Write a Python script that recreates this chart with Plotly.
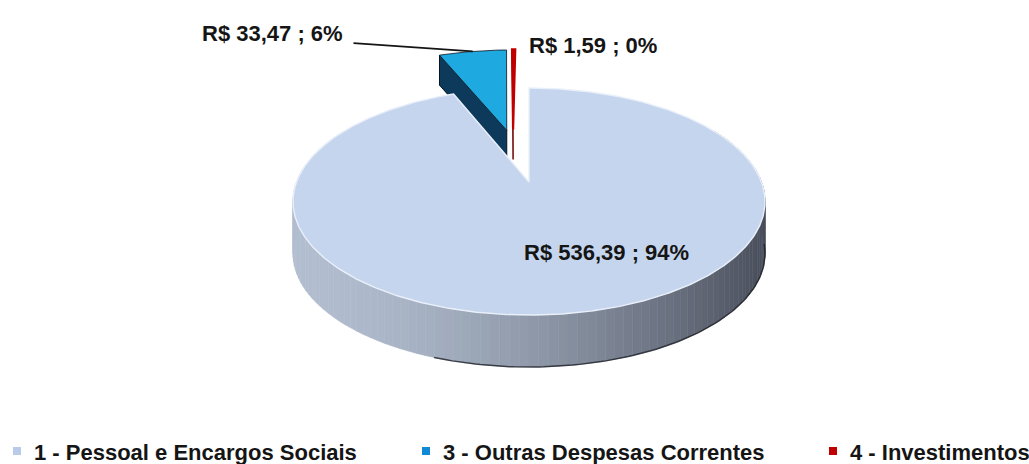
import math
import plotly.graph_objects as go

# ---- data -------------------------------------------------------------
categories = ["1 - Pessoal e Encargos Sociais",
              "3 - Outras Despesas Correntes",
              "4 - Investimentos"]
values = [536.39, 33.47, 1.59]
top_colors = ["#c6d5ee", "#1ea9e1", "#c00000"]
face_colors = ["#8d99ad", "#0d3a5a", "#6e0000"]
legend_colors = ["#b9cbe8", "#1189d6", "#c00000"]
explode = [0.0, 0.52, 0.52]
drift = [0.0, 0.0, -0.07]     # extra sideways pull so thin slices stay clear

# ---- 3-D pie geometry (pixel-like plot units) -------------------------
W, H = 1029, 464
CX = 529.0          # horizontal centre
RX = 232.5          # horizontal radius
Q = 0.172           # perspective strength
K = 640.5           # vertical perspective scale
Y0 = -458.5         # vertical perspective offset
DEPTH = 52.0        # thickness of the disc at the front
DEPTH_BACK = 30.0   # apparent thickness of slices pulled to the back


def proj(theta_deg, r=1.0, du=0.0, dv=0.0):
    """Project a disc-top point (angle clockwise from 12 o'clock)."""
    t = math.radians(theta_deg)
    u = r * math.sin(t) + du
    v = -r * math.cos(t) + dv
    s = 1.0 / (1.0 - Q * v)
    return CX + RX * u * s, Y0 + K * s


def arc(a0, a1, step=1.0, du=0.0, dv=0.0):
    n = max(2, int(abs(a1 - a0) / step) + 1)
    return [proj(a0 + (a1 - a0) * i / (n - 1), 1.0, du, dv) for i in range(n)]


def lerp(c0, c1, t):
    return "rgb(%d,%d,%d)" % tuple(round(c0[i] + (c1[i] - c0[i]) * t) for i in range(3))


total = sum(values)
fracs = [v / total for v in values]
starts, ends = [], []
acc = 0.0
for f in fracs:
    starts.append(acc * 360)
    acc += f
    ends.append(acc * 360)

fig = go.Figure()


def poly(pts, fill, line_color=None, line_width=0):
    xs = [p[0] for p in pts] + [pts[0][0]]
    ys = [p[1] for p in pts] + [pts[0][1]]
    fig.add_trace(go.Scatter(
        x=xs, y=ys, mode="lines", fill="toself", fillcolor=fill,
        line=dict(color=line_color or fill, width=line_width),
        hoverinfo="skip", showlegend=False))


# exploded slices (drawn first: they sit behind the main disc)
label_anchor = {}
for i in range(len(values)):
    if explode[i] <= 0:
        continue
    mid = math.radians((starts[i] + ends[i]) / 2)
    du = explode[i] * math.sin(mid) + drift[i]
    dv = -explode[i] * math.cos(mid)
    a = proj(0, 0.0, du, dv)
    edge = arc(starts[i], ends[i], 0.5, du, dv)
    e0 = edge[0]
    # visible radial cut face on the leading edge
    poly([a, e0, (e0[0], e0[1] + DEPTH_BACK), (a[0], a[1] + DEPTH_BACK)],
         face_colors[i], "#08131d" if i == 1 else face_colors[i], 1)
    if i == 2:
        poly([a] + edge, top_colors[i], top_colors[i], 2.2)
    else:
        poly([a] + edge, top_colors[i], "#08131d", 0.8)
    label_anchor[i] = edge[len(edge) // 2]

# curved side of the main slice, shaded from left (light) to right (dark)
side_light = (178, 190, 208)
side_dark = (74, 79, 92)
x_left, x_right = CX - RX * 1.015, CX + RX * 1.015
seg = 2.0
th = 60.0
while th < 300.0:
    p0, p1 = proj(th), proj(th + seg)
    xm = (p0[0] + p1[0]) / 2
    t = (xm - x_left) / (x_right - x_left)
    col = lerp(side_light, side_dark, min(1, max(0, t)) ** 1.6)
    poly([p0, p1, (p1[0], p1[1] + DEPTH), (p0[0], p0[1] + DEPTH)], col, col, 0.6)
    th += seg

# outline along the lower rim on the shaded side
rim = [(p[0], p[1] + DEPTH) for p in arc(95, 200, 1)]
fig.add_trace(go.Scatter(x=[p[0] for p in rim], y=[p[1] for p in rim], mode="lines",
                         line=dict(color="rgba(30,32,40,0.8)", width=1.5),
                         hoverinfo="skip", showlegend=False))

# top face of the main slice
poly([proj(0, 0.0)] + arc(starts[0], ends[0], 0.5), top_colors[0], "#eaf0fa", 1.4)


# ---- labels ------------------------------------------------------------
def money(v):
    return "R$ " + ("%.2f" % v).replace(".", ",")


labels = ["%s ; %d%%" % (money(v), round(f * 100)) for v, f in zip(values, fracs)]
FONT = dict(family="Liberation Sans, Arial, sans-serif", size=22, color="#151515")

fig.add_annotation(x=606, y=252, text="<b>%s</b>" % labels[0], showarrow=False, font=FONT)
fig.add_annotation(x=272, y=33, text="<b>%s</b>" % labels[1], showarrow=False, font=FONT)
tip = label_anchor[1]
fig.add_annotation(x=tip[0], y=tip[1], ax=352, ay=43, axref="x", ayref="y",
                   text="", showarrow=True, arrowhead=0, arrowwidth=1.6,
                   arrowcolor="#151515", standoff=0, startstandoff=0)
fig.add_annotation(x=527, y=45, xanchor="left", text="<b>%s</b>" % labels[2],
                   showarrow=False, font=FONT)

# ---- legend ------------------------------------------------------------
legend_x = [13, 422, 829]
for name, col, lx in zip(categories, legend_colors, legend_x):
    fig.add_shape(type="rect", x0=lx, x1=lx + 8, y0=447, y1=455,
                  fillcolor=col, line=dict(width=0))
    fig.add_annotation(x=lx + 19, y=452, xanchor="left", text="<b>%s</b>" % name,
                       showarrow=False, font=FONT)

fig.update_xaxes(range=[0, W], visible=False, fixedrange=True)
fig.update_yaxes(range=[H, 0], visible=False, fixedrange=True)
fig.update_layout(width=W, height=H, margin=dict(l=0, r=0, t=0, b=0),
                  plot_bgcolor="white", paper_bgcolor="white", showlegend=False)

fig.write_html("out.html")
